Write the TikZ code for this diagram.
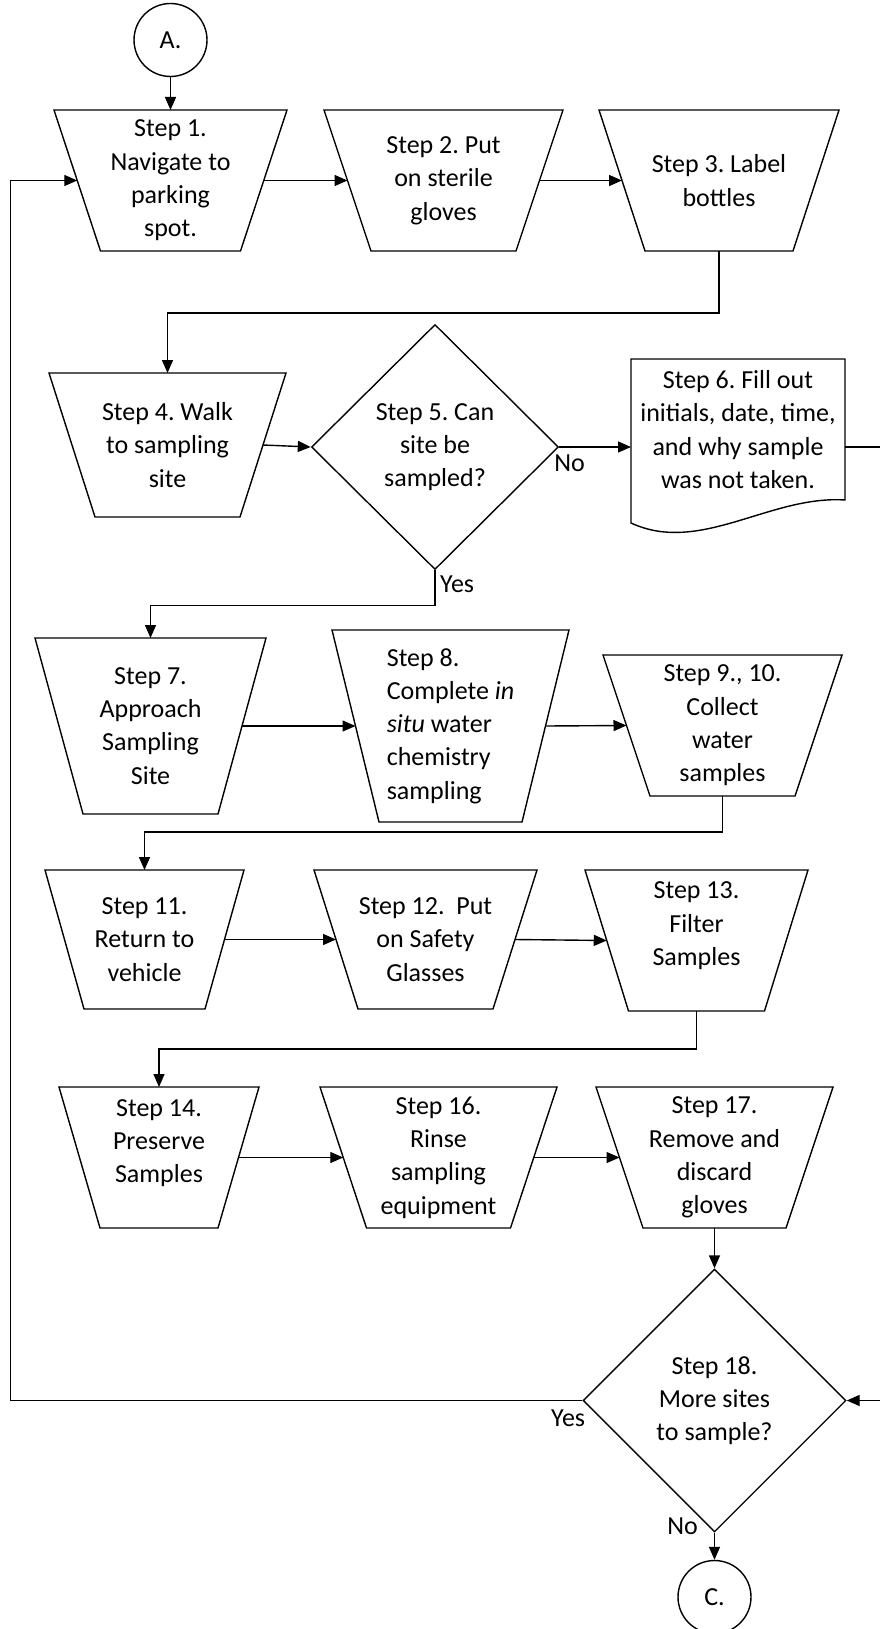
\documentclass[tikz,border=0pt]{standalone}
\usepackage{fontspec}
\setmainfont{Carlito}
\usepackage{tikz}
\usetikzlibrary{shapes.geometric}
\usetikzlibrary{arrows.meta}
\frenchspacing

\begin{document}
\begin{tikzpicture}[x=1pt, y=-1pt,
    >={Triangle[length=13pt,width=11pt]},
    every node/.style={font=\fontsize{26}{33.3}\selectfont},
    stepbox/.style={rectangle, inner sep=0pt, outer sep=0pt, align=center, minimum height=141pt},
    decision/.style={draw, line width=1.4pt, diamond, inner sep=0pt, align=center},
    terminal/.style={draw, line width=1.4pt, circle, minimum size=73pt, inner sep=0pt},
    report/.style={inner sep=0pt, outer sep=0pt, align=center, minimum width=214pt, minimum height=141pt},
    answer/.style={inner sep=0pt},
    flow/.style={line width=1.4pt}]
\useasboundingbox (0,0) rectangle (880,1629);

\node[terminal] (A) at (170.5,40) {A.};
\node[stepbox, minimum width=233pt] (step1) at (170.5,180.5) {Step 1.\\Navigate to\\parking\\spot.};
\node[stepbox, minimum width=239pt] (step2) at (443.5,180.5) {Step 2. Put\\on sterile\\gloves};
\node[stepbox, minimum width=240pt] (step3) at (719,180.5) {Step 3. Label\\bottles};
\node[stepbox, minimum width=237pt, minimum height=144pt] (step4) at (167.5,445) {Step 4. Walk\\to sampling\\site};
\node[decision, minimum width=247pt, minimum height=245pt] (step5) at (435,447) {Step 5. Can\\site be\\sampled?};
\node[report] (step6) at (738,429.5) {Step 6. Fill out\\initials, date, time,\\and why sample\\was not taken.};
\node[stepbox, minimum width=231pt, minimum height=176pt] (step7) at (150.5,726) {Step 7.\\Approach\\Sampling\\Site};
\node[stepbox, minimum width=237pt, minimum height=192pt, align=left] (step8) at (450.5,726) {Step 8.\\Complete \textit{in}\\\textit{situ} water\\chemistry\\sampling};
\node[stepbox, minimum width=239pt] (step9) at (722.5,725.5) {Step 9., 10.\\Collect\\water\\samples};
\node[stepbox, minimum width=199pt, minimum height=139pt] (step11) at (144.5,939.5) {Step 11.\\Return to\\vehicle};
\node[stepbox, minimum width=223pt, minimum height=139pt] (step12) at (425.5,939.5) {Step 12.~ Put\\on Safety\\Glasses};
\node[stepbox, minimum width=223pt] (step13) at (696.5,940.5) {Step 13.\\Filter\\Samples\\~};
\node[stepbox, minimum width=200pt] (step14) at (159,1157.5) {Step 14.\\Preserve\\Samples\\~};
\node[stepbox, minimum width=237pt] (step16) at (438.5,1157.5) {Step 16.\\Rinse\\sampling\\equipment};
\node[stepbox, minimum width=237pt] (step17) at (714.5,1157.5) {Step 17.\\Remove and\\discard\\gloves};
\node[decision, minimum width=263pt, minimum height=263pt] (step18) at (714.5,1400.5) {Step 18.\\More sites\\to sample?};
\node[terminal] (C) at (714.5,1597) {C.};

\node[answer, anchor=north west] (no5) at ([xshift=-5pt,yshift=-8pt]step5.east) {No};
\node[answer, anchor=north west] (yes5) at ([xshift=5pt,yshift=-5pt]step5.south) {Yes};
\node[answer, anchor=north east] (yes18) at ([xshift=3pt,yshift=-9.5pt]step18.west) {Yes};
\node[answer, anchor=south east] (no18) at ([xshift=-16.5pt,yshift=-2.5pt]step18.south) {No};

% tapered step outlines, with side midpoints for the connectors
\foreach \n/\t in {step1/46.5, step2/47, step3/46, step4/46, step7/48, step8/47,
    step9/47, step11/39, step12/44, step13/43.5, step14/41, step16/46.5, step17/47}{
  \draw[flow] (\n.north west) -- (\n.north east) -- ([xshift=-\t pt]\n.south east)
    -- ([xshift=\t pt]\n.south west) -- cycle;
  \coordinate (\n-l) at ([xshift=0.5*\t pt]\n.west);
  \coordinate (\n-r) at ([xshift=-0.5*\t pt]\n.east);
}

\draw[flow] (step6.south east) .. controls ([xshift=-75pt,yshift=5pt]step6.south east) and ([xshift=69pt,yshift=-55pt]step6.south west) .. ([yshift=-23pt]step6.south west) -- (step6.north west) -- (step6.north east) -- cycle;

\draw[flow,->] (A) -- (step1);
\draw[flow,->] (step1-r) -- (step2-l);
\draw[flow,->] (step2-r) -- (step3-l);
\draw[flow,->] (step3.south) -- ++(0,62) -| (step4.north);
\draw[flow,->] (step4-r) -- (step5.west);
\draw[flow,->] (step5.east) -- (step5.east -| step6.west);
\draw[flow,->] (step5.east -| step6.east) -- ++(60,0) |- (step18.east);
\draw[flow,->] (step5.south) -- ++(0,35) -| (step7.north);
\draw[flow,->] (step7-r) -- (step8-l);
\draw[flow,->] (step8-r) -- (step9-l);
\draw[flow,->] (step9.south) -- ++(0,36) -| (step11.north);
\draw[flow,->] (step11-r) -- (step12-l);
\draw[flow,->] (step12-r) -- (step13-l);
\draw[flow,->] (step13.south) -- ++(0,38) -| (step14.north);
\draw[flow,->] (step14-r) -- (step16-l);
\draw[flow,->] (step16-r) -- (step17-l);
\draw[flow,->] (step17.south) -- (step18.north);
\draw[flow,->] (step18.south) -- (C.north);
\draw[flow,->] (step18.west) -- ++(-572,0) |- (step1-l);
\end{tikzpicture}
\end{document}
